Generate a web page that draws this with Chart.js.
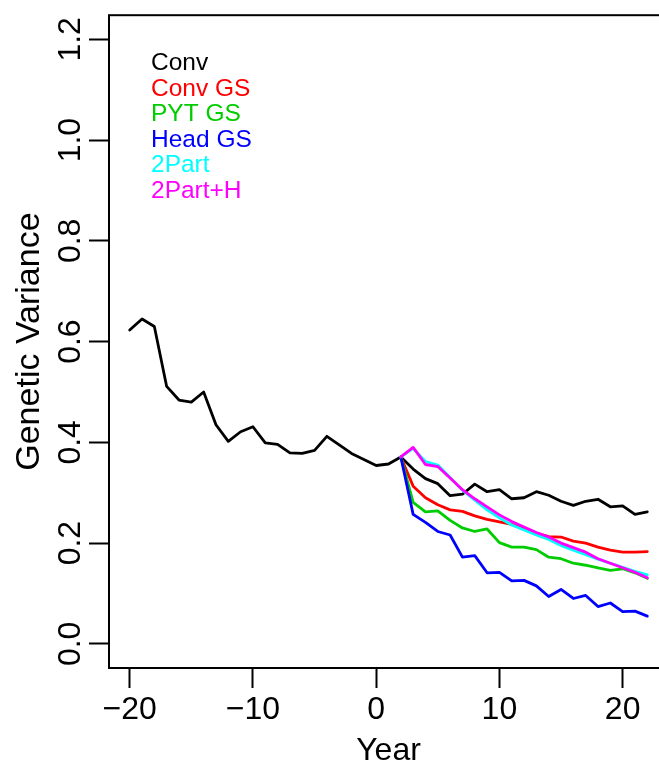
<!DOCTYPE html>
<html lang="en">
<head>
<meta charset="UTF-8">
<title>Genetic Variance</title>
<script src="https://cdn.jsdelivr.net/npm/chart.js"></script>
<style>
  body { margin: 0; overflow: hidden; background: #fff; }
</style>
</head>
<body>
<canvas id="chart" width="680" height="765"></canvas>
<script>
// years on the x axis
const yearsConv = [-20, -19, -18, -17, -16, -15, -14, -13, -12, -11, -10, -9, -8, -7, -6, -5, -4, -3, -2, -1,
                   0, 1, 2, 3, 4, 5, 6, 7, 8, 9, 10, 11, 12, 13, 14, 15, 16, 17, 18, 19, 20, 21, 22];
const yearsGS = [2, 3, 4, 5, 6, 7, 8, 9, 10, 11, 12, 13, 14, 15, 16, 17, 18, 19, 20, 21, 22];

// genetic variance
const conv = [0.623, 0.645, 0.630, 0.511, 0.484, 0.480, 0.500, 0.435, 0.402, 0.421,
              0.431, 0.399, 0.396, 0.379, 0.378, 0.384, 0.412, 0.395, 0.378, 0.366,
              0.354, 0.357, 0.371, 0.347, 0.328, 0.318, 0.294, 0.297, 0.317, 0.302,
              0.306, 0.288, 0.290, 0.302, 0.295, 0.283, 0.275, 0.283, 0.287, 0.272,
              0.274, 0.257, 0.262];
const convGS = [0.371, 0.313, 0.290, 0.276, 0.266, 0.263, 0.254, 0.247, 0.242, 0.237, 0.228,
                0.220, 0.213, 0.212, 0.204, 0.200, 0.192, 0.186, 0.182, 0.182, 0.183];
const pytGS = [0.371, 0.281, 0.262, 0.264, 0.245, 0.230, 0.223, 0.228, 0.201, 0.192, 0.192,
               0.187, 0.172, 0.169, 0.160, 0.156, 0.151, 0.146, 0.149, 0.141, 0.130];
const headGS = [0.371, 0.257, 0.241, 0.223, 0.216, 0.172, 0.175, 0.141, 0.142, 0.125, 0.126,
                0.115, 0.094, 0.108, 0.090, 0.096, 0.074, 0.081, 0.064, 0.065, 0.055];
const twoPart = [0.371, 0.388, 0.362, 0.355, 0.330, 0.305, 0.285, 0.266, 0.250, 0.236, 0.226,
                 0.216, 0.207, 0.195, 0.186, 0.177, 0.168, 0.160, 0.152, 0.144, 0.137];
const twoPartH = [0.371, 0.390, 0.356, 0.352, 0.329, 0.306, 0.288, 0.272, 0.256, 0.243, 0.232,
                  0.221, 0.212, 0.200, 0.191, 0.182, 0.169, 0.160, 0.151, 0.142, 0.131];

const seriesNames = ['Conv', 'Conv GS', 'PYT GS', 'Head GS', '2Part', '2Part+H'];
const seriesColors = ['#000000', '#FF0000', '#00CD00', '#0000FF', '#00FFFF', '#FF00FF'];

const xTicks = [-20, -10, 0, 10, 20];
const yTicks = [0, 0.2, 0.4, 0.6, 0.8, 1.0, 1.2];

const family = '"Liberation Sans", Arial, Helvetica, sans-serif';

function pts(xs, ys) {
    return xs.map((x, i) => ({ x: x, y: ys[i] }));
}

const seriesData = [
    pts(yearsConv, conv),
    pts(yearsGS, convGS),
    pts(yearsGS, pytGS),
    pts(yearsGS, headGS),
    pts(yearsGS, twoPart),
    pts(yearsGS, twoPartH)
];

// later series drawn on top, like R
const datasets = seriesData.map((d, i) => ({
    label: seriesNames[i],
    data: d,
    borderColor: seriesColors[i],
    backgroundColor: seriesColors[i],
    borderWidth: 2.8,
    pointRadius: 0,
    fill: false,
    tension: 0,
    borderJoinStyle: 'round',
    borderCapStyle: 'round',
    order: seriesNames.length - i
}));

// box round the plot region
const framePlugin = {
    id: 'frame',
    afterDraw(chart) {
        const { ctx, chartArea: a } = chart;
        ctx.save();
        ctx.strokeStyle = '#000';
        ctx.lineWidth = 2;
        ctx.strokeRect(a.left, a.top, a.right - a.left, a.bottom - a.top);
        ctx.restore();
    }
};

// text-only legend in series colours
const textLegend = {
    id: 'textLegend',
    afterDraw(chart) {
        const { ctx, chartArea: a } = chart;
        ctx.save();
        ctx.font = '24.5px ' + family;
        ctx.textAlign = 'left';
        ctx.textBaseline = 'alphabetic';
        chart.data.datasets.forEach((ds, i) => {
            ctx.fillStyle = ds.borderColor;
            ctx.fillText(ds.label, a.left + 42, a.top + 55 + i * 25.5);
        });
        ctx.restore();
    }
};

const ctx = document.getElementById('chart').getContext('2d');
const myChart = new Chart(ctx, {
    type: 'line',
    data: { datasets: datasets },
    plugins: [framePlugin, textLegend],
    options: {
        responsive: false,
        animation: false,
        devicePixelRatio: 1,
        layout: { padding: { top: 9, right: 12, left: 0, bottom: 0 } },
        plugins: {
            legend: { display: false },
            tooltip: { enabled: false }
        },
        scales: {
            x: {
                type: 'linear',
                position: 'bottom',
                min: -21.68,
                max: 23.68,
                afterBuildTicks: s => { s.ticks = xTicks.map(v => ({ value: v })); },
                afterFit: s => { s.height = 97; },
                ticks: {
                    autoSkip: false,
                    minRotation: 0,
                    maxRotation: 0,
                    padding: 3,
                    color: '#000',
                    font: { size: 32, family: family },
                    callback: v => String(v).replace('-', '\u2212')
                },
                grid: { drawOnChartArea: false, drawTicks: true, tickLength: 20, tickWidth: 2, tickColor: '#000' },
                border: { display: false },
                title: {
                    display: true,
                    text: 'Year',
                    color: '#000',
                    font: { size: 32, family: family, lineHeight: 1 },
                    padding: { top: 0, bottom: -2 }
                }
            },
            y: {
                type: 'linear',
                position: 'left',
                min: -0.048,
                max: 1.248,
                afterBuildTicks: s => { s.ticks = yTicks.map(v => ({ value: v })); },
                afterFit: s => { s.width = 109; },
                ticks: {
                    autoSkip: false,
                    minRotation: 90,
                    maxRotation: 90,
                    crossAlign: 'center',
                    padding: -4,
                    color: '#000',
                    font: { size: 32, family: family },
                    callback: v => v.toFixed(1)
                },
                grid: { drawOnChartArea: false, drawTicks: true, tickLength: 20, tickWidth: 2, tickColor: '#000' },
                border: { display: false },
                title: {
                    display: true,
                    text: 'Genetic Variance',
                    color: '#000',
                    font: { size: 34, family: family, lineHeight: 1 },
                    padding: { top: 13, bottom: 0 }
                }
            }
        }
    }
});
</script>
</body>
</html>
